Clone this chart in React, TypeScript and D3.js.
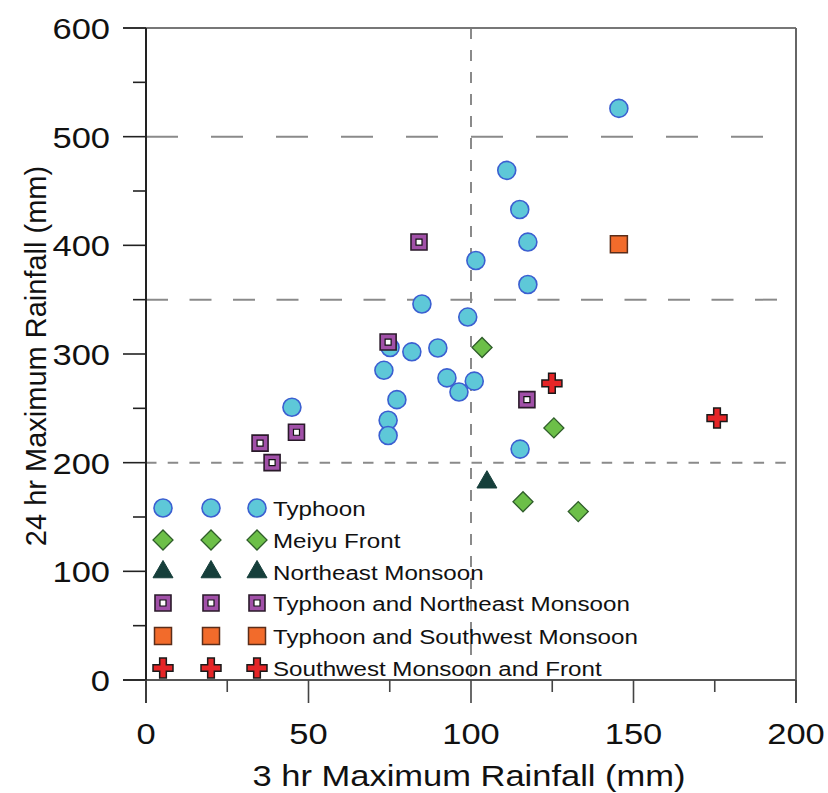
import React from "react";
import * as d3 from "d3";

// Typhoon
const typhoonX = [145.5, 111, 115, 117.5, 101.5, 117.5, 84.9, 99, 75.1, 81.8, 89.8, 73.2, 92.6, 101, 96.3, 77.2, 44.9, 74.5, 74.5, 115.1];
const typhoonY = [526, 469, 433, 403, 386, 364, 346, 334, 306, 302, 305.5, 285, 278, 275, 265, 258, 251, 239, 225, 212.5];
// Meiyu Front
const meiyuX = [103.4, 125.5, 116, 133];
const meiyuY = [306, 232, 164, 155];
// Northeast Monsoon
const neX = [104.9];
const neY = [182];
// Typhoon and Northeast Monsoon
const tyNeX = [84, 74.5, 117.2, 46.3, 35.1, 38.8];
const tyNeY = [403, 311, 258, 228, 218, 200];
// Typhoon and Southwest Monsoon
const tySwX = [145.5];
const tySwY = [401];
// Southwest Monsoon and Front
const swFrontX = [124.9, 175.7];
const swFrontY = [273, 241];

const legendLabels = [
  "Typhoon",
  "Meiyu Front",
  "Northeast Monsoon",
  "Typhoon and Northeast Monsoon",
  "Typhoon and Southwest Monsoon",
  "Southwest Monsoon and Front",
];

const xTicks = [0, 50, 100, 150, 200];
const yTicks = [0, 100, 200, 300, 400, 500, 600];

const W = 828;
const H = 793;
const STRETCH = 1.15;

const x = d3.scaleLinear().domain([0, 200]).range([146, 796]);
const y = d3.scaleLinear().domain([0, 600]).range([680, 28]);

const sym = (type: any, size: number) => d3.symbol().type(type).size(size)() as string;

const circlePath = sym(d3.symbolCircle, 254);
const diamondPath = sym(d3.symbolSquare, 200);
const trianglePath = sym(d3.symbolTriangle, 173);
const squarePath = sym(d3.symbolSquare, 256);
const innerSquarePath = sym(d3.symbolSquare, 36);
const orangePath = sym(d3.symbolSquare, 289);
const crossPath = sym(d3.symbolCross, 222);

function Marker({ kind, cx, cy }: { kind: number; cx: number; cy: number }) {
  const t = `translate(${cx},${cy})`;
  switch (kind) {
    case 0:
      return <path d={circlePath} transform={t} fill="#5ec8d8" stroke="#3b5fd1" strokeWidth={1.6} />;
    case 1:
      return <path d={diamondPath} transform={`${t} rotate(45)`} fill="#6cbf48" stroke="#2f5d2a" strokeWidth={1.3} />;
    case 2:
      return <path d={trianglePath} transform={t} fill="#163f3b" stroke="#163f3b" strokeWidth={1} />;
    case 3:
      return (
        <g transform={t}>
          <path d={squarePath} fill="#a150a8" stroke="#2a1a2a" strokeWidth={1.6} />
          <path d={innerSquarePath} fill="#fff" stroke="#111" strokeWidth={1.2} />
        </g>
      );
    case 4:
      return <path d={orangePath} transform={t} fill="#f26b2b" stroke="#5a2d1a" strokeWidth={1.5} />;
    default:
      return <path d={crossPath} transform={t} fill="#e52527" stroke="#1a1a1a" strokeWidth={1.5} />;
  }
}

const series = [
  { kind: 0, xs: typhoonX, ys: typhoonY },
  { kind: 1, xs: meiyuX, ys: meiyuY },
  { kind: 2, xs: neX, ys: neY },
  { kind: 3, xs: tyNeX, ys: tyNeY },
  { kind: 4, xs: tySwX, ys: tySwY },
  { kind: 5, xs: swFrontX, ys: swFrontY },
];

export default function App() {
  const font = "Liberation Sans, Arial, sans-serif";
  const grid = "#8a8a8a";
  const minorX = d3.range(25, 200, 50);
  const minorY = d3.range(50, 600, 100);
  const legendRows = [508, 540, 572, 603, 636, 668];
  const legendCols = [163, 211, 257];

  return (
    <svg width={W} height={H} style={{ position: "absolute", left: 0, top: 0 }} fontFamily={font}>
      <rect width={W} height={H} fill="#fff" />

      {/* reference lines */}
      <line x1={x(0)} x2={766} y1={y(500)} y2={y(500)} stroke={grid} strokeWidth={2} strokeDasharray="32,33" />
      <line x1={x(0)} x2={778} y1={y(350)} y2={y(350)} stroke={grid} strokeWidth={2} strokeDasharray="22,21.5" />
      <line x1={x(0)} x2={790} y1={y(200)} y2={y(200)} stroke={grid} strokeWidth={2} strokeDasharray="10.5,11.2" />
      <line x1={x(100)} x2={x(100)} y1={y(600)} y2={y(0)} stroke={grid} strokeWidth={2} strokeDasharray="11,11" />

      {/* frame */}
      <line x1={123} x2={x(200)} y1={y(600)} y2={y(600)} stroke="#777" strokeWidth={2} />
      <line x1={x(200)} x2={x(200)} y1={y(600)} y2={703} stroke="#666" strokeWidth={2} />
      <line x1={123} x2={x(200)} y1={y(0)} y2={y(0)} stroke="#555" strokeWidth={2} />
      <line x1={x(0)} x2={x(0)} y1={y(600)} y2={703} stroke="#222" strokeWidth={2} />

      {/* y ticks */}
      {yTicks.map((v) => (
        <g key={"yt" + v}>
          <line x1={123} x2={x(0)} y1={y(v)} y2={y(v)} stroke="#222" strokeWidth={1.6} />
          <text transform={`translate(110,${y(v) + 11}) scale(${STRETCH},1)`} textAnchor="end" fontSize={30} fill="#111">
            {v}
          </text>
        </g>
      ))}
      {minorY.map((v) => (
        <line key={"ym" + v} x1={133} x2={x(0)} y1={y(v)} y2={y(v)} stroke="#222" strokeWidth={1.6} />
      ))}

      {/* x ticks */}
      {xTicks.map((v) => (
        <g key={"xt" + v}>
          <line x1={x(v)} x2={x(v)} y1={y(0)} y2={703} stroke="#444" strokeWidth={1.6} />
          <text transform={`translate(${x(v)},744) scale(${STRETCH},1)`} textAnchor="middle" fontSize={30} fill="#111">
            {v}
          </text>
        </g>
      ))}
      {minorX.map((v) => (
        <line key={"xm" + v} x1={x(v)} x2={x(v)} y1={y(0)} y2={692} stroke="#444" strokeWidth={1.6} />
      ))}

      {/* axis titles */}
      <text transform={`translate(469,786) scale(${STRETCH},1)`} textAnchor="middle" fontSize={30} fill="#111">
        3 hr Maximum Rainfall (mm)
      </text>
      <text transform={`translate(46,356) rotate(-90)`} textAnchor="middle" fontSize={29} fill="#111">
        24 hr Maximum Rainfall (mm)
      </text>

      {/* points */}
      {series.map((s) =>
        s.xs.map((xv, i) => <Marker key={`p${s.kind}-${i}`} kind={s.kind} cx={x(xv)} cy={y(s.ys[i])} />)
      )}

      {/* legend */}
      {legendLabels.map((label, r) => (
        <g key={"lg" + r}>
          {legendCols.map((cx, c) => (
            <Marker key={c} kind={r} cx={cx} cy={legendRows[r]} />
          ))}
          <text transform={`translate(273,${legendRows[r] + 7.5}) scale(${STRETCH},1)`} fontSize={21} fill="#111">
            {label}
          </text>
        </g>
      ))}
    </svg>
  );
}
